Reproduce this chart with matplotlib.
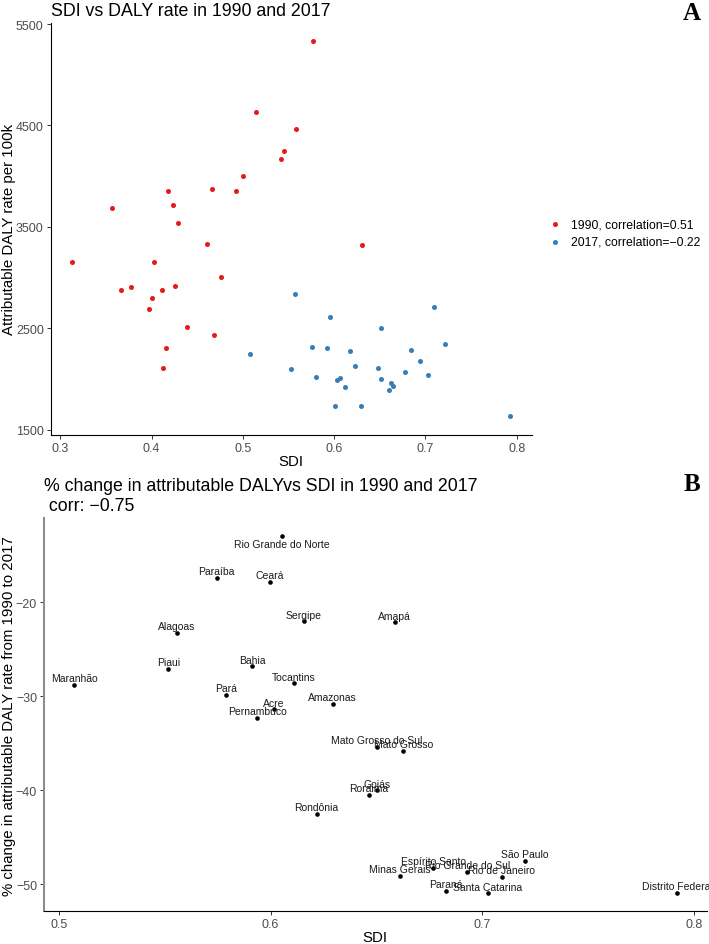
import matplotlib
matplotlib.use("Agg")
import matplotlib.pyplot as plt

plt.rcParams['font.family'] = ['Liberation Sans', 'DejaVu Sans']

# --- panel A: SDI vs attributable DALY rate per 100k -------------------------
sdi_1990 = [0.577, 0.514, 0.558, 0.545, 0.542, 0.500, 0.466, 0.492, 0.418,
            0.357, 0.424, 0.429, 0.461, 0.313, 0.403, 0.476, 0.367, 0.377,
            0.411, 0.426, 0.400, 0.397, 0.439, 0.468, 0.416, 0.413, 0.631]
daly_1990 = [5336, 4636, 4461, 4245, 4169, 4002, 3871, 3854, 3857,
             3690, 3712, 3535, 3331, 3156, 3150, 3009, 2874, 2904,
             2881, 2920, 2798, 2690, 2510, 2431, 2309, 2105, 3324]

sdi_2017 = [0.508, 0.557, 0.595, 0.576, 0.592, 0.617, 0.553, 0.580, 0.623,
            0.603, 0.607, 0.612, 0.601, 0.630, 0.710, 0.651, 0.721, 0.684,
            0.694, 0.648, 0.678, 0.703, 0.651, 0.662, 0.664, 0.660, 0.793]
daly_2017 = [2250, 2835, 2614, 2316, 2306, 2279, 2096, 2019, 2131,
             1993, 2013, 1924, 1734, 1737, 2710, 2500, 2342, 2283,
             2175, 2105, 2066, 2042, 1999, 1961, 1934, 1895, 1632]

legend_labels = ["1990, correlation=0.51", "2017, correlation=\u22120.22"]

# --- panel B: % change vs SDI 2017, by state ----------------------------------
states = ["Rio Grande do Norte", "Para\u00edba", "Cear\u00e1", "Sergipe",
          "Alagoas", "Piaui", "Bahia", "Maranh\u00e3o", "Tocantins",
          "Par\u00e1", "Acre", "Pernambuco", "Amazonas", "Rond\u00f4nia",
          "Mato Grosso do Sul", "Mato Grosso", "Goi\u00e1s", "Roraima",
          "S\u00e3o Paulo", "Esp\u00edrito Santo", "Rio Grande do Sul",
          "Rio de Janeiro", "Minas Gerais", "Paran\u00e1", "Santa Catarina",
          "Distrito Federal", "Amap\u00e1"]
state_sdi = [0.6053, 0.5744, 0.5997, 0.6157, 0.5558, 0.5517, 0.5912, 0.5071,
             0.6108, 0.5789, 0.6016, 0.5937, 0.6293, 0.6217, 0.6503, 0.6626,
             0.6503, 0.6465, 0.7201, 0.6768, 0.6929, 0.7091, 0.6610, 0.6826,
             0.7026, 0.7922, 0.6586]
pct_change = [-12.9, -17.4, -17.8, -22.0, -23.2, -27.1, -26.8, -28.8, -28.6,
              -29.85, -31.4, -32.3, -30.8, -42.5, -35.35, -35.8, -40.0, -40.5,
              -47.5, -48.3, -48.7, -49.2, -49.1, -50.7, -51.0, -50.9, -22.1]

RED = "#E41A1C"
BLUE = "#377EB8"
TICK_LABEL = "#4D4D4D"
W, H = 709, 945


def style_axes(ax):
    for side in ("top", "right"):
        ax.spines[side].set_visible(False)
    for side in ("left", "bottom"):
        ax.spines[side].set_linewidth(0.8)
        ax.spines[side].set_color("black")
    ax.tick_params(length=3, width=0.7, color="#333333", labelsize=9,
                   labelcolor=TICK_LABEL, pad=2)


fig = plt.figure(figsize=(W / 100, H / 100), dpi=100)

# panel A
ax1 = fig.add_axes([50.7 / W, 1 - 436 / H, 481 / W, 412.5 / H])
ax1.scatter(sdi_1990, daly_1990, s=13, color=RED, label=legend_labels[0],
            linewidths=0)
ax1.scatter(sdi_2017, daly_2017, s=13, color=BLUE, label=legend_labels[1],
            linewidths=0)
ax1.set_xlim(0.2895, 0.8165)
ax1.set_ylim(1448, 5515)
ax1.set_xticks([0.3, 0.4, 0.5, 0.6, 0.7, 0.8])
ax1.set_yticks([1500, 2500, 3500, 4500, 5500])
style_axes(ax1)
ax1.set_xlabel("SDI", fontsize=10.8)
ax1.set_ylabel("Attributable DALY rate per 100k", fontsize=10.8)
ax1.xaxis.set_label_coords(0.5, -0.046)
ax1.yaxis.set_label_coords(-0.073, 0.5)
fig.text(50.7 / W, 1 - 16.5 / H, "SDI vs DALY rate in 1990 and 2017",
         fontsize=12.8, va="baseline", ha="left")
fig.legend(loc="center left", bbox_to_anchor=(537 / W, 1 - 234 / H),
           frameon=False, fontsize=8.8, handletextpad=0.3,
           labelspacing=0.45, markerscale=1.0, borderpad=0)

# panel B
ax2 = fig.add_axes([44 / W, 1 - 912.3 / H, 662.7 / W, 393.3 / H])
ax2.scatter(state_sdi, pct_change, s=11, color="black", linewidths=0)
ax2.set_xlim(0.4929, 0.806)
ax2.set_ylim(-52.9, -11.0)
ax2.set_xticks([0.5, 0.6, 0.7, 0.8])
ax2.set_yticks([-50, -40, -30, -20])
style_axes(ax2)
ax2.spines["left"].set_color("#8C8C8C")
ax2.spines["left"].set_linewidth(1.5)
ax2.set_xlabel("SDI", fontsize=10.8)
ax2.set_ylabel("% change in attributable DALY rate from 1990 to 2017",
               fontsize=10.8)
ax2.xaxis.set_label_coords(0.5, -0.047)
ax2.yaxis.set_label_coords(-0.043, 0.5)

ytop = ax2.get_ylim()[1]
for name, x, y in zip(states, state_sdi, pct_change):
    # labels sit just above their point, except when that would leave the panel
    dy = -5.8 if ytop - y < 3 else 4.8
    ax2.annotate(name, (x, y), xytext=(0, dy), textcoords="offset points",
                 ha="center", va="center", fontsize=7.5, color="#1a1a1a",
                 annotation_clip=False)

fig.text(44.3 / W, 1 - 490.7 / H,
         "% change in attributable DALYvs SDI in 1990 and 2017",
         fontsize=12.8, va="baseline", ha="left")
fig.text(44.3 / W, 1 - 511 / H, " corr: \u22120.75",
         fontsize=12.8, va="baseline", ha="left")

# panel letters
fig.text(692 / W, 1 - 14 / H, "A", fontsize=18, fontweight="bold",
         family="Liberation Serif", ha="center", va="center")
fig.text(692 / W, 1 - 485 / H, "B", fontsize=18, fontweight="bold",
         family="Liberation Serif", ha="center", va="center")

fig.savefig("out.png", dpi=100)
